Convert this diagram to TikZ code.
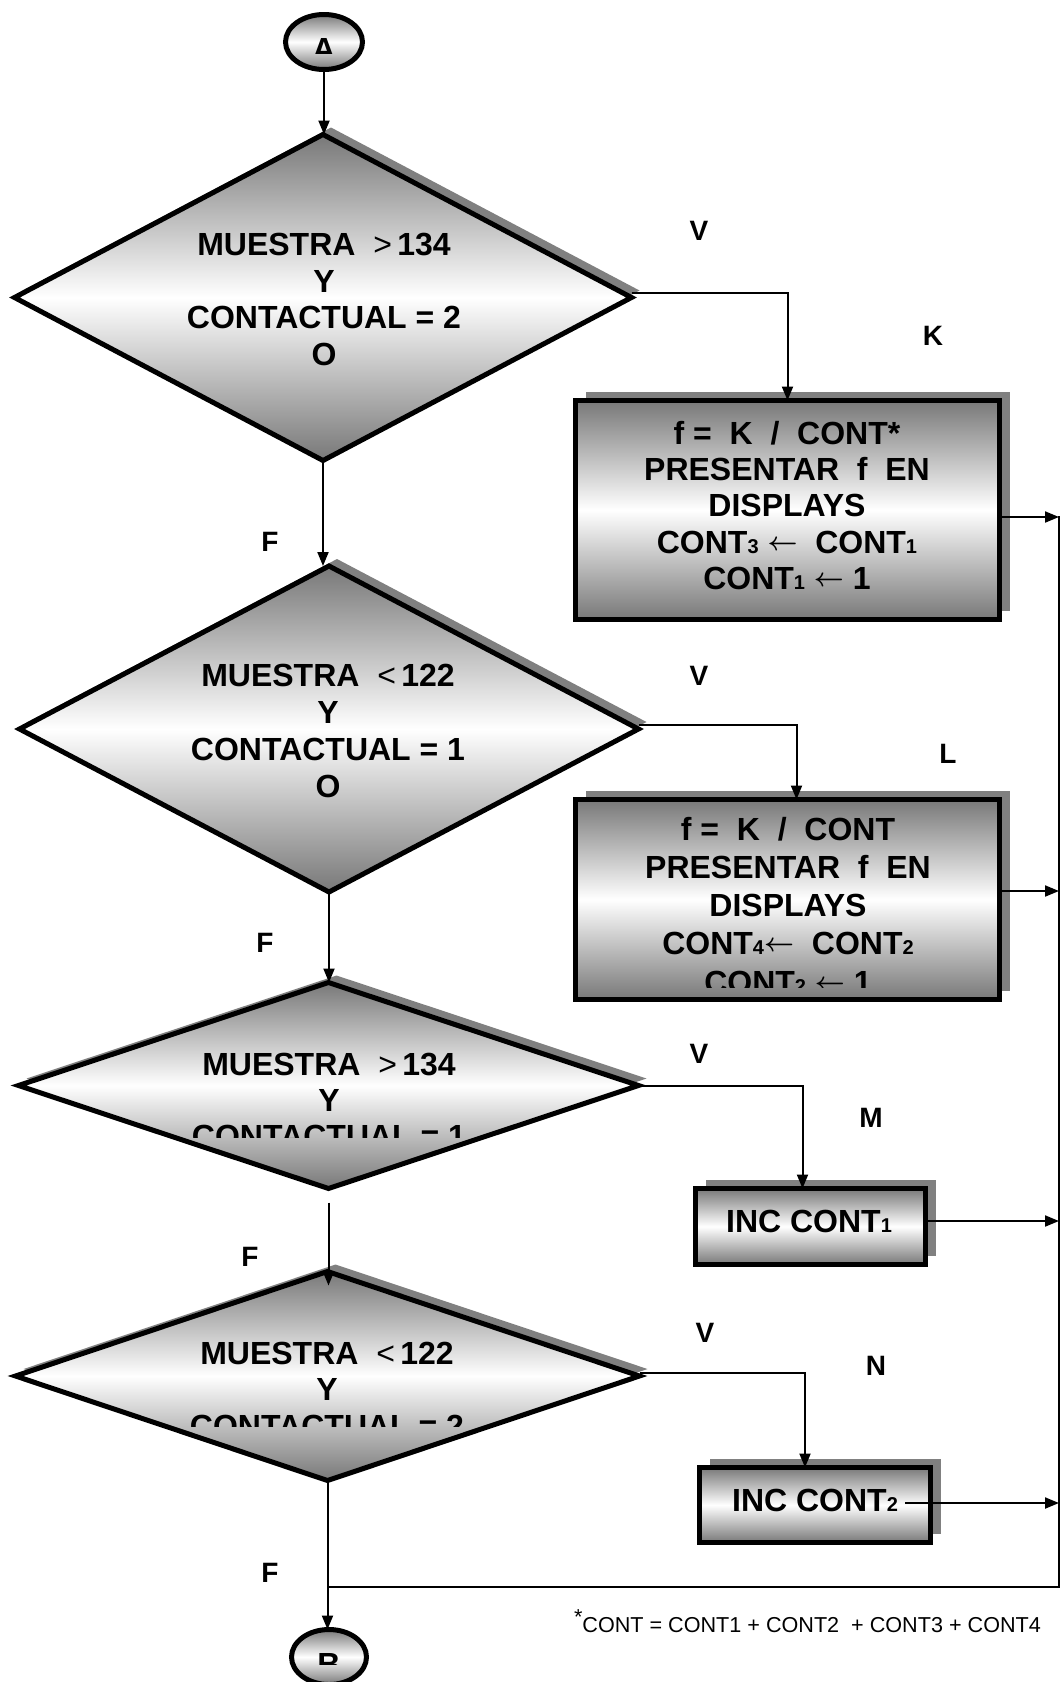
\documentclass[tikz,border=0pt]{standalone}
\usepackage{fontspec}
\setmainfont{Liberation Sans}
\usetikzlibrary{shapes.geometric,arrows.meta,shadows}
\definecolor{shadeg}{HTML}{787878}
\definecolor{shadowg}{HTML}{808080}
\newcommand\sbs[1]{{\fontsize{20}{20}\selectfont #1}}
\newcommand\larr{\raisebox{2.5pt}{\resizebox{30pt}{!}{\boldmath$\leftarrow$}}}
\begin{document}
\begin{tikzpicture}[x=1pt,y=-1pt,
  every node/.style={inner sep=0pt,outer sep=0pt},
  decision/.style={shape=diamond,draw,line width=5pt,
     top color=shadeg,bottom color=shadeg,middle color=white,
     general shadow={fill=shadowg,shadow xshift=8pt,shadow yshift=7pt}},
  procbox/.style={rectangle,draw,line width=5pt,
     top color=shadeg,bottom color=shadeg,middle color=white,
     general shadow={fill=shadowg,shadow xshift=10pt,shadow yshift=9pt}},
  terminal/.style={ellipse,draw,line width=5pt,
     top color=shadeg,bottom color=shadeg,middle color=white},
  txt/.style={anchor=base,font=\bfseries\fontsize{32}{36}\selectfont},
  lbl/.style={font=\bfseries\fontsize{28}{30}\selectfont},
  foot/.style={font=\fontsize{21.6}{24}\selectfont},
  conn/.style={line width=2pt,-{Triangle[length=14pt,width=11pt]}},
  plain/.style={line width=2pt}]
\useasboundingbox (0,0) rectangle (1062,1682);
\fill[white] (0,0) rectangle (1062,1682);
\clip (0,0) rectangle (1062,1682);

% shapes
\node[terminal,minimum width=77pt,minimum height=55pt] (a) at (324,42) {};
\node[decision,minimum width=617pt,minimum height=326pt] (d1) at (323,297.5) {};
\node[decision,minimum width=619pt,minimum height=326pt] (d2) at (329,729) {};
\node[decision,minimum width=620pt,minimum height=206pt] (d3) at (328.5,1085.5) {};
\node[decision,minimum width=624pt,minimum height=209pt] (d4) at (327.5,1376) {};
\node[procbox,minimum width=424pt,minimum height=219pt] (k) at (787.5,510) {};
\node[procbox,minimum width=424pt,minimum height=200pt] (l) at (787.5,899.5) {};
\node[procbox,minimum width=230pt,minimum height=76pt] (m) at (810.5,1226.5) {};
\node[procbox,minimum width=231pt,minimum height=75pt] (n) at (815,1505) {};
\node[terminal,minimum width=75pt,minimum height=55pt] (b) at (329,1657) {};

% texts
\begin{scope}
\clip (0,0) rectangle (1062,53);
\node[txt] (at) at (324,60) {A};
\end{scope}
\node[txt] (d1a) at (324,255) {MUESTRA\ \ {\mdseries >}\,134};
\node[txt] (d1b) at (324,292) {Y};
\node[txt] (d1c) at (324,328) {CONTACTUAL = 2};
\node[txt] (d1d) at (324,365) {O};
\node[txt] (d2a) at (328,686) {MUESTRA\ \ {\mdseries <}\,122};
\node[txt] (d2b) at (328,723) {Y};
\node[txt] (d2c) at (328,760) {CONTACTUAL = 1};
\node[txt] (d2d) at (328,797) {O};
\node[txt] (d3a) at (329,1075) {MUESTRA\ \ {\mdseries >}\,134};
\node[txt] (d3b) at (329,1111) {Y};
\begin{scope}
\clip (0,0) rectangle (1062,1137);
\node[txt] (d3c) at (329,1147) {CONTACTUAL = 1};
\end{scope}
\node[txt] (d4a) at (327,1364) {MUESTRA\ \ {\mdseries <}\,122};
\node[txt] (d4b) at (327,1400) {Y};
\begin{scope}
\clip (0,0) rectangle (1062,1426);
\node[txt] (d4c) at (327,1437) {CONTACTUAL = 2};
\end{scope}
\node[txt] (k1) at (787,444) {f\ =\ \ K\ \ /\ \ CONT*};
\node[txt] (k2) at (787,480) {PRESENTAR\ \ f\ \ EN};
\node[txt] (k3) at (787,516) {DISPLAYS};
\node[txt] (k4) at (787,553) {CONT\sbs{3}\ \larr\ \ CONT\sbs{1}};
\node[txt] (k5) at (787,589) {CONT\sbs{1}\ \larr\ 1};
\node[txt] (l1) at (788,840) {f\ =\ \ K\ \ /\ \ CONT};
\node[txt] (l2) at (788,878) {PRESENTAR\ \ f\ \ EN};
\node[txt] (l3) at (788,916) {DISPLAYS};
\node[txt] (l4) at (788,954) {CONT\sbs{4}\larr\ \ CONT\sbs{2}};
\begin{scope}
\clip (0,0) rectangle (1062,987);
\node[txt] (l5) at (788,993) {CONT\sbs{2}\ \larr\ 1};
\end{scope}
\node[txt] (mt) at (809,1232) {INC CONT\sbs{1}};
\node[txt] (nt) at (815,1511) {INC CONT\sbs{2}};
\begin{scope}
\clip (0,0) rectangle (1062,1664);
\node[txt] (bt) at (329,1675) {B};
\end{scope}

% labels
\node[lbl] (v1) at (699,231) {V};
\node[lbl] (lk) at (933,336) {K};
\node[lbl] (f1) at (270,542) {F};
\node[lbl] (v2) at (699,676) {V};
\node[lbl] (ll) at (948,754) {L};
\node[lbl] (f2) at (265,943) {F};
\node[lbl] (v3) at (699,1054) {V};
\node[lbl] (lm) at (871,1118) {M};
\node[lbl] (f3) at (250,1257) {F};
\node[lbl] (v4) at (705,1333) {V};
\node[lbl] (ln) at (876,1366) {N};
\node[lbl] (f4) at (270,1573) {F};
\node[foot,anchor=base west] (note) at (574,1632)
  {\raisebox{8pt}{*}CONT = CONT1 + CONT2\ \ + CONT3 + CONT4};

% rail coordinates
\coordinate (rtop) at (1059,516);
\coordinate (rbot) at (1059,1587);
\coordinate (fb) at (327,1587);
\coordinate (kout) at ([yshift=-7pt]k.east);
\coordinate (lout) at ([yshift=8.5pt]l.east);
\coordinate (mout) at ([yshift=5.5pt]m.east);
\coordinate (nout) at (905,1503);

% connectors
\draw[conn] (a.south) -- (a.south |- d1.north);
\draw[conn] ([yshift=5pt]d1.east) -| (k.north);
\draw[conn] (d1.south) -- (d1.south |- d2.north);
\draw[conn] ([yshift=4pt]d2.east) -| ([xshift=9pt]l.north);
\draw[conn] (d2.south) -- (d2.south |- d3.north);
\draw[conn] (d3.east) -| ([xshift=-8pt]m.north);
\draw[conn] ([yshift=-14pt]d3.south) -- ([yshift=-14pt]d3.south |- d4.north);
\draw[conn] ([yshift=3pt]d4.east) -| ([xshift=-10pt]n.north);
\draw[conn] (d4.south) -- (d4.south |- b.north);
\draw[plain] (fb) -- (rbot) -- (rtop);
\draw[conn] (kout) -- (kout -| rtop);
\draw[conn] (lout) -- (lout -| rtop);
\draw[conn] (mout) -- (mout -| rtop);
\draw[conn] (nout) -- (nout -| rtop);
\end{tikzpicture}
\end{document}
